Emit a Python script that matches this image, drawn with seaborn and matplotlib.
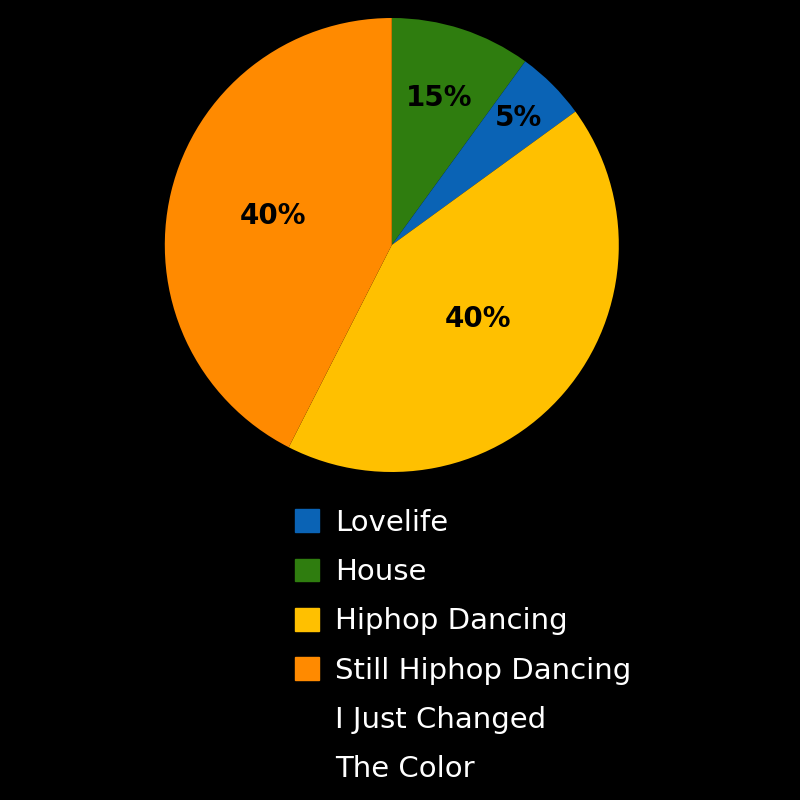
# pie chart: what's on my mind

import seaborn as sns
import matplotlib.pyplot as plt
import matplotlib.patches as mpatches
import numpy as np

# data
categories = ["Lovelife", "House", "Hiphop Dancing", "Still Hiphop Dancing"]
slice_sizes = [5, 10, 42.5, 42.5]          # measured from the wedge angles
pct_labels = ["5%", "15%", "40%", "40%"]   # what is written on the wedges
extra_legend_lines = ["I Just Changed", "The Color"]

colors = {"Lovelife": "#0a63b5", "House": "#2f7d0f",
          "Hiphop Dancing": "#ffc000", "Still Hiphop Dancing": "#ff8a00"}

# wedge order going clockwise from 12 o'clock
draw_order = ["House", "Lovelife", "Hiphop Dancing", "Still Hiphop Dancing"]
label_dist = {"House": 0.68, "Lovelife": 0.79, "Hiphop Dancing": 0.5, "Still Hiphop Dancing": 0.54}

sns.set_theme(style="dark", rc={"figure.facecolor": "black", "axes.facecolor": "black"})
plt.rcParams['font.family'] = ['DejaVu Sans']

fig = plt.figure(figsize=(8, 8), dpi=100)
ax = fig.add_axes([0.206, 0.41, 0.5675, 0.5675])

idx = [categories.index(c) for c in draw_order]
sizes = [slice_sizes[i] for i in idx]
wedges, texts = ax.pie(sizes, colors=[colors[c] for c in draw_order],
                       startangle=90, counterclock=False,
                       wedgeprops={"linewidth": 0})

# percentage labels placed along each wedge's middle angle
for w, c in zip(wedges, draw_order):
    ang = np.deg2rad((w.theta1 + w.theta2) / 2)
    r = label_dist[c]
    ax.text(r * np.cos(ang), r * np.sin(ang), pct_labels[categories.index(c)],
            ha="center", va="center", fontsize=20, fontweight="bold", color="black")

ax.set_xlim(-1, 1)
ax.set_ylim(-1, 1)
ax.set_aspect("equal")
ax.axis("off")

# legend, last entry wraps over two more lines
handles = [mpatches.Patch(color=colors[c]) for c in categories]
handles += [mpatches.Patch(alpha=0) for _ in extra_legend_lines]
leg = fig.legend(handles, categories + extra_legend_lines,
                 loc="upper left", bbox_to_anchor=(0.369, 0.364),
                 frameon=False, fontsize=21, labelcolor="white",
                 handlelength=0.82, handleheight=0.82, handletextpad=0.55,
                 labelspacing=0.73, borderpad=0, borderaxespad=0)

plt.savefig("out.png", dpi=100, facecolor="black")
